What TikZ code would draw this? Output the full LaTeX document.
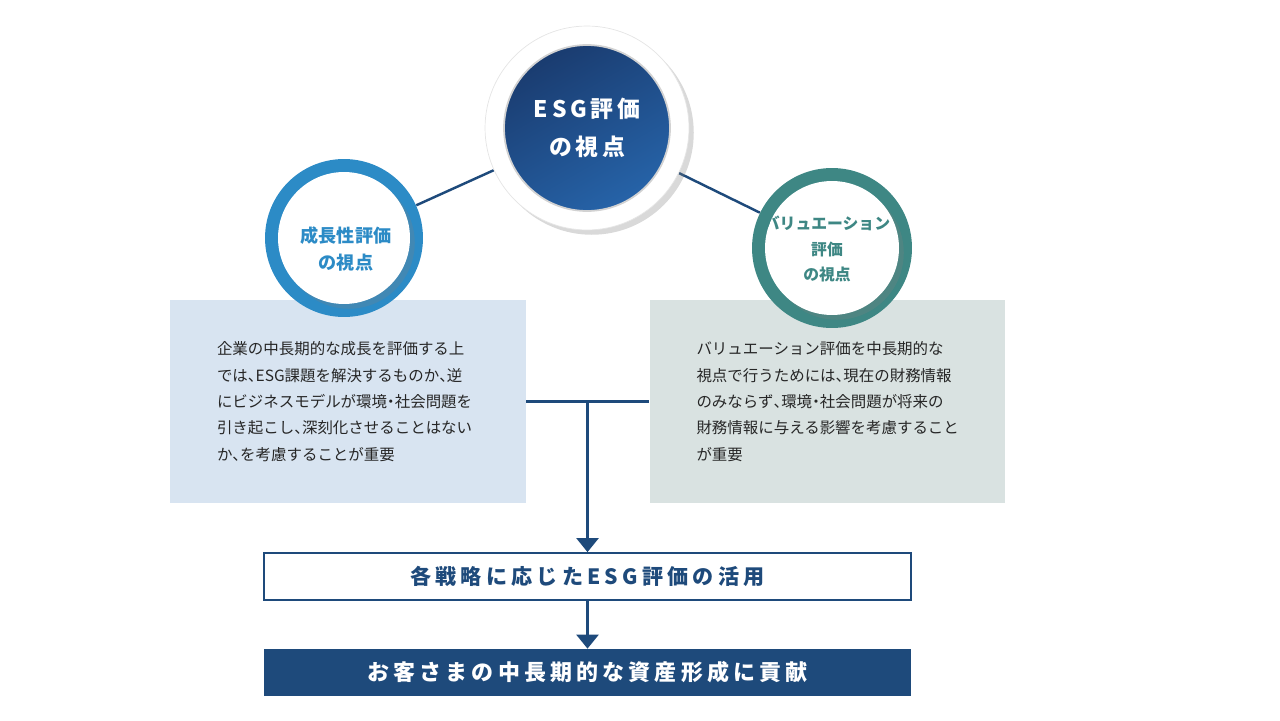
\documentclass[tikz,border=0pt]{standalone}
\usepackage{fontspec}
\setmainfont{Noto Sans CJK JP}
\usetikzlibrary{arrows.meta,positioning,shadows,backgrounds}
\definecolor{navy}{HTML}{1E4A7B}
\definecolor{esgdark}{HTML}{1A3C70}
\definecolor{esglight}{HTML}{2663A8}
\definecolor{growthblue}{HTML}{2C8BC6}
\definecolor{valteal}{HTML}{3E8784}
\definecolor{growthbg}{HTML}{D8E4F1}
\definecolor{valbg}{HTML}{D9E2E1}
\definecolor{bodytext}{HTML}{262626}
\newcommand{\hcomma}{\makebox[.5em][l]{、}}
\newcommand{\hdot}{\makebox[.5em][c]{・}}

\begin{document}
\begin{tikzpicture}[x=0.02cm, y=-0.02cm,
    link/.style={draw=navy, line width=1.4pt},
    arrow/.style={link, -{Triangle[width=0.44cm, length=0.28cm]}},
    ring/.style={circle, inner sep=0pt, minimum size=#1},
    infobox/.style={rectangle, minimum width=7.12cm, minimum height=4.06cm, inner sep=0pt},
    bodytxt/.style={text width=5.24cm, align=left, text=bodytext, font=\fontsize{8.8}{15}\selectfont},
    barbox/.style={rectangle, minimum width=12.94cm, minimum height=0.94cm, inner sep=0pt}
]
    \useasboundingbox (0,0) rectangle (1280,720);

    % Detail boxes
    \node[infobox, fill=growthbg, bodytxt] (growthbox) at (348,401.5)
        {企業の中長期的な成長を評価する上\\
         では\hcomma ESG課題を解決するものか\hcomma 逆\\
         にビジネスモデルが環境\hdot 社会問題を\\
         引き起こし\hcomma 深刻化させることはない\\
         か\hcomma を考慮することが重要};
    \node[infobox, fill=valbg, bodytxt] (valbox) at (827.5,401.5)
        {バリュエーション評価を中長期的な\\
         視点で行うためには\hcomma 現在の財務情報\\
         のみならず\hcomma 環境\hdot 社会問題が将来の\\
         財務情報に与える影響を考慮すること\\
         が重要};

    % ESG circle
    \node[ring=4.08cm, fill=white, draw=gray!20, drop shadow={opacity=0.3}] (esgring) at (587,128) {};
    \node[ring=3.32cm, top color=esgdark, bottom color=esglight, shading angle=30,
          draw=gray!35, line width=1pt, text=white, align=center,
          font=\bfseries\fontsize{13}{22}\selectfont\addfontfeatures{LetterSpace=16}] (esg) at (587,128)
        {ESG評価\\の視点};

    % Growth circle
    \node[ring=3.16cm, fill=growthblue] (growthring) at (344,238) {};
    \node[ring=2.64cm, fill=white, drop shadow={opacity=0.25}] (growthdisk) at (344,238) {};
    \node[align=center, text=growthblue, font=\bfseries\fontsize{10.3}{15.3}\selectfont] (growthlabel) at (346,249)
        {成長性評価\\の視点};

    % Valuation circle
    \node[ring=3.2cm, fill=valteal] (valring) at (832,248) {};
    \node[ring=2.68cm, fill=white, drop shadow={opacity=0.25}] (valdisk) at (832,248) {};
    \node[align=center, text=valteal, font=\bfseries\fontsize{9}{14.7}\selectfont] (vallabel) at (827,249)
        {バリュエーション\\評価\\の視点};

    \begin{scope}[on background layer]
        \draw[link] (esgring) -- (growthring);
        \draw[link] (esgring) -- (valring);
    \end{scope}

    % Result bars
    \node[barbox, draw=navy, line width=1pt, fill=white, text=navy,
          font=\bfseries\fontsize{12}{14}\selectfont\addfontfeatures{LetterSpace=20}] (apply) at (587.5,576.5)
        {各戦略に応じたESG評価の活用};
    \node[barbox, fill=navy, text=white,
          font=\bfseries\fontsize{12.5}{14}\selectfont\addfontfeatures{LetterSpace=19}] (goal) at (587.5,672.5)
        {お客さまの中長期的な資産形成に貢献};

    \coordinate (join) at (growthbox.east -| apply.north);
    \draw[link] (growthbox.east) -- (valbox.west);
    \draw[arrow] (join) -- (apply.north);
    \draw[arrow] (apply) -- (goal);
\end{tikzpicture}
\end{document}
